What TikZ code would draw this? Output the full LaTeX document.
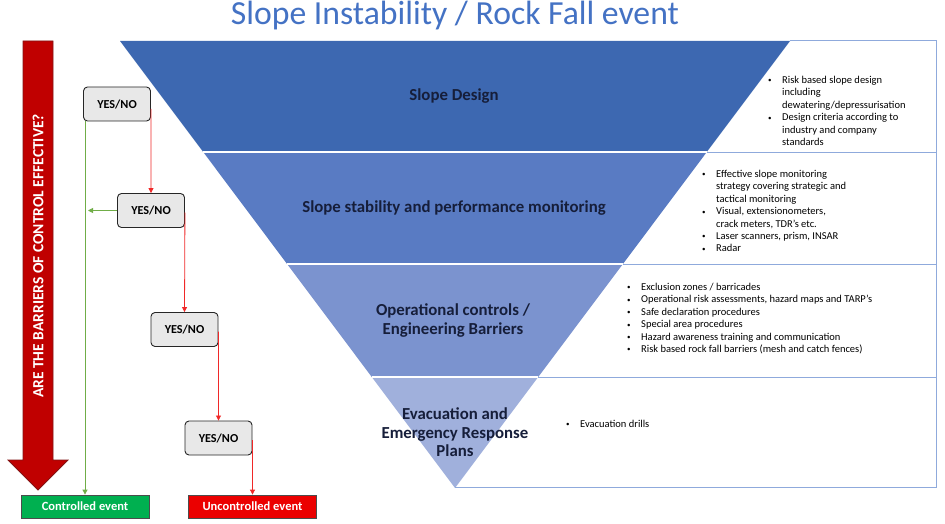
\documentclass[tikz,border=0pt]{standalone}
\usepackage{fontspec}
\setmainfont{Carlito}
\usetikzlibrary{arrows.meta,calc}
\definecolor{bandA}{RGB}{61,104,177}
\definecolor{bandB}{RGB}{89,123,195}
\definecolor{bandC}{RGB}{123,147,207}
\definecolor{bandD}{RGB}{160,176,220}
\definecolor{frameblue}{RGB}{143,170,220}
\definecolor{titleblue}{RGB}{68,114,196}
\definecolor{navy}{RGB}{22,30,58}
\definecolor{darkred}{RGB}{192,0,0}
\definecolor{darkredline}{RGB}{130,20,20}
\definecolor{ynfill}{RGB}{232,232,232}
\definecolor{gline}{RGB}{112,173,71}
\definecolor{rline}{RGB}{240,40,40}
\definecolor{ctrlgreen}{RGB}{0,176,80}
\definecolor{uncred}{RGB}{235,0,0}
\tikzset{
  yn/.style={draw=black!85,line width=0.9pt,rounded corners=4pt,fill=ynfill,minimum width=67pt,minimum height=34pt,inner sep=0pt,font=\fontsize{12.2}{14}\selectfont\bfseries},
  evbox/.style={draw=black!70,line width=0.8pt,minimum width=128pt,minimum height=23pt,inner sep=0pt,text=white,font=\fontsize{12.5}{14}\selectfont\bfseries},
  bandtitle/.style={text=navy,align=center,font=\fontsize{16.8}{18.5}\selectfont\bfseries,inner sep=0pt},
  bul/.style={anchor=north west,inner sep=0pt,align=left,font=\fontsize{10.5}{12.4}\selectfont},
  redarr/.style={draw=rline,line width=0.8pt,-{Triangle[length=5pt,width=5pt]}},
  grnarr/.style={draw=gline,line width=0.8pt,-{Triangle[length=5pt,width=5pt]}},
  frame/.style={draw=frameblue,line width=1pt}
}
\newcommand{\bitem}{\makebox[14pt][l]{\raisebox{0.5pt}{\scriptsize\textbullet}}}
\newcommand{\bcont}{\makebox[14pt][l]{}}
\begin{document}
\begin{tikzpicture}[x=1pt,y=-1pt]
\useasboundingbox (0,0) rectangle (945,524);
\fill[white] (0,0) rectangle (945,524);
% title
\node[text=titleblue,font=\fontsize{33.7}{36}\selectfont,inner sep=0pt] (title) at (455,16) {Slope Instability / Rock Fall event};
% triangle bands
\fill[bandA] (120,41) -- (790,41) -- (706.8,152) -- (203.2,152) -- cycle;
\fill[bandB] (203.2,152) -- (706.8,152) -- (622.9,264) -- (287.1,264) -- cycle;
\fill[bandC] (287.1,264) -- (622.9,264) -- (538.2,377) -- (371.8,377) -- cycle;
\fill[bandD] (371.8,377) -- (538.2,377) -- (455,488) -- cycle;
\draw[white,line width=1.5pt] (203.2,152) -- (706.8,152) (287.1,264) -- (622.9,264) (371.8,377) -- (538.2,377);
% right frame
\draw[frame] (790,41) -- (936,41) -- (936,487.5) -- (455,487.5);
\draw[frame] (706.8,152.5) -- (936,152.5);
\draw[frame] (622.9,264.5) -- (936,264.5);
\draw[frame] (538.2,377.5) -- (936,377.5);
% band titles
\node[bandtitle] (t1) at (454,96) {Slope Design};
\node[bandtitle] (t2) at (454,208) {Slope stability and performance monitoring};
\node[bandtitle] (t3) at (453,320.5) {Operational controls /\\Engineering Barriers};
\node[bandtitle] (t4) at (455,432.5) {Evacuation and\\Emergency Response\\Plans};
% bullets
\node[bul] (l1) at (768,76) {\bitem Risk based slope design\\\bcont including\\\bcont dewatering/depressurisation\\\bitem Design criteria according to\\\bcont industry and company\\\bcont standards};
\node[bul] (l2) at (702,170) {\bitem Effective slope monitoring\\\bcont strategy covering strategic and\\\bcont tactical monitoring\\\bitem Visual, extensionometers,\\\bcont crack meters, TDR’s etc.\\\bitem Laser scanners, prism, INSAR\\\bitem Radar};
\node[bul] (l3) at (627,283) {\bitem Exclusion zones / barricades\\\bitem Operational risk assessments, hazard maps and TARP’s\\\bitem Safe declaration procedures\\\bitem Special area procedures\\\bitem Hazard awareness training and communication\\\bitem Risk based rock fall barriers (mesh and catch fences)};
\node[bul] (l4) at (566,420) {\bitem Evacuation drills};
% big red arrow
\draw[fill=darkred,draw=darkredline,line width=0.8pt] (23,41) -- (53,41) -- (53,460) -- (68,460) -- (38,490) -- (8,460) -- (23,460) -- cycle;
\node[rotate=90,text=white,font=\fontsize{15.5}{17}\selectfont\bfseries,inner sep=0pt] (q) at (38,256) {ARE THE BARRIERS OF CONTROL EFFECTIVE?};
% yes/no boxes
\node[yn] (b1) at (117,104) {YES/NO};
\node[yn] (b2) at (151,210.5) {YES/NO};
\node[yn] (b3) at (184.5,329.5) {YES/NO};
\node[yn] (b4) at (218.5,438) {YES/NO};
% event boxes
\node[evbox,fill=ctrlgreen] (ctrl) at (85,506.5) {Controlled event};
\node[evbox,fill=uncred] (unc) at (252.5,506.5) {Uncontrolled event};
% connectors
\draw[grnarr] (b1.south -| ctrl.north) -- (ctrl.north);
\draw[grnarr] (b2.west) -- ($(b2.west -| ctrl.north)+(3,0)$);
\draw[redarr] ($(b1.east)+(0,5)$) -- (b2.north);
\draw[redarr] ($(b2.east)+(0,2)$) -- (b3.north);
\draw[redarr] ($(b3.east)+(0,2)$) -- (b4.north);
\draw[redarr] ($(b4.east)+(0,2)$) -- (unc.north);
\end{tikzpicture}
\end{document}
